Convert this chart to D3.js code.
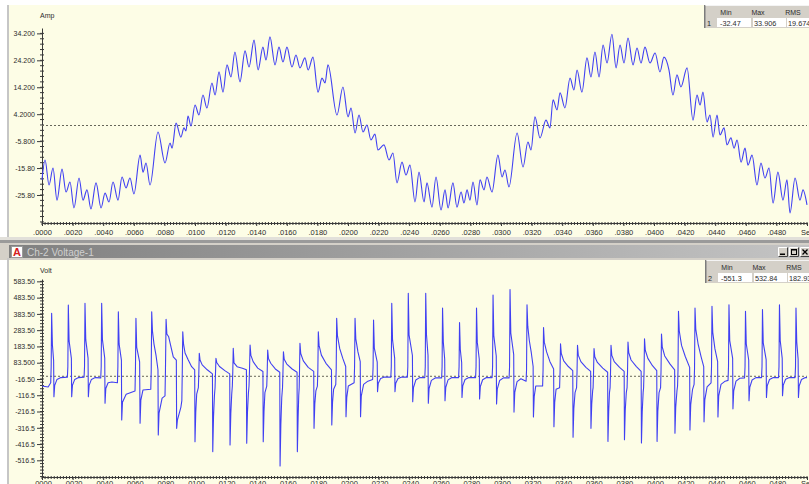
<!DOCTYPE html>
<html>
<head>
<meta charset="utf-8">
<script src="https://cdn.jsdelivr.net/npm/d3@7/dist/d3.min.js"></script>
<style>
html, body { margin: 0; padding: 0; background: #fff; overflow: hidden; }
svg { display: block; font-family: "Liberation Sans", Arial, sans-serif; }
</style>
</head>
<body>
<svg id="chart" width="809" height="484"></svg>
<script>
// ---- time axis (ms) ----
const timeTicksMs = [0,2,4,6,8,10,12,14,16,18,20,22,24,26,28,30,32,34,36,38,40,42,44,46,48,50];
const timeTickLabels = [".0000",".0020",".0040",".0060",".0080",".0100",".0120",".0140",".0160",".0180",
  ".0200",".0220",".0240",".0260",".0280",".0300",".0320",".0340",".0360",".0380",".0400",".0420",
  ".0440",".0460",".0480","Sec"];

// ---- channel 1: current ----
const ampTicks = [34.2, 24.2, 14.2, 4.2, -5.8, -15.8, -25.8];
const ampTickLabels = ["34.200","24.200","14.200","4.2000","-5.800","-15.80","-25.80"];
const ampStats = ["1", "-32.47", "33.906", "19.674"];
// [time ms, current A]
const ampSamples = [
 [0,-20.2],[0.20,-12.8],[0.46,-22.1],[0.72,-15.8],[0.98,-27.7],[1.31,-16.2],[1.57,-24.7],[1.83,-21.0],
 [2.09,-30.6],[2.42,-19.5],[2.68,-27.7],[2.94,-23.9],[3.20,-31.0],[3.53,-21.3],[3.86,-30.6],[4.12,-25.1],
 [4.38,-28.4],[4.64,-21.0],[4.97,-27.7],[5.23,-19.1],[5.49,-23.2],[5.75,-19.5],[6.01,-25.4],[6.41,-11.0],
 [6.60,-17.3],[6.80,-13.9],[7.06,-22.1],[7.58,-2.4],[8.04,-13.9],[8.37,-6.5],[8.50,-8.4],[8.76,0.9],
 [9.08,-4.3],[9.28,-0.9],[9.41,-2.0],[9.54,3.5],[9.74,-0.2],[10.00,7.6],[10.26,3.9],[10.52,11.3],
 [10.78,6.5],[11.11,15.8],[11.31,11.3],[11.57,19.9],[11.83,12.4],[12.09,22.5],[12.35,18.0],[12.61,27.3],
 [12.94,16.2],[13.27,27.7],[13.53,21.7],[13.86,31.7],[14.12,20.6],[14.44,29.1],[14.64,24.3],[14.90,32.9],
 [15.23,22.5],[15.49,29.1],[15.75,23.6],[16.01,29.1],[16.34,21.7],[16.60,26.2],[16.86,21.4],[17.19,25.1],
 [17.39,20.6],[17.71,25.4],[18.04,12.4],[18.30,17.6],[18.50,15.8],[18.69,22.5],[19.28,3.9],[19.67,14.3],
 [20.00,3.2],[20.20,6.5],[20.46,-2.8],[20.72,3.9],[20.98,-2.4],[21.24,0.2],[21.50,-5.4],[21.76,-3.2],
 [21.96,-9.1],[22.35,-7.2],[22.68,-12.8],[22.94,-10.2],[23.20,-21.3],[23.53,-13.6],[23.79,-18.4],[24.05,-14.7],
 [24.38,-28.4],[24.64,-17.3],[24.97,-28.4],[25.16,-21.3],[25.49,-30.3],[25.75,-19.1],[26.08,-31.4],[26.34,-23.9],
 [26.54,-30.6],[26.86,-21.3],[27.12,-30.3],[27.39,-24.7],[27.58,-28.8],[27.78,-23.9],[27.97,-27.7],[28.17,-21.0],
 [28.43,-29.5],[28.63,-20.2],[28.89,-23.9],[29.08,-19.1],[29.41,-24.7],[29.80,-11.0],[30.07,-19.1],[30.26,-16.5],
 [30.52,-22.8],[31.05,-2.8],[31.44,-15.4],[31.76,-6.1],[31.96,-9.1],[32.22,3.2],[32.55,-4.6],[32.94,2.0],
 [33.20,-0.9],[33.40,9.5],[33.66,5.8],[33.86,12.1],[34.18,6.5],[34.51,17.6],[34.77,13.2],[34.97,20.6],
 [35.29,12.4],[35.62,25.1],[35.88,18.0],[36.14,27.3],[36.41,18.0],[36.67,29.9],[36.93,23.2],[37.25,33.906],
 [37.52,21.4],[37.78,29.9],[38.04,23.2],[38.30,32.5],[38.63,22.5],[38.89,28.8],[39.15,23.2],[39.41,29.1],
 [39.74,23.2],[40.07,26.9],[40.39,19.9],[40.65,25.4],[40.98,20.6],[41.24,11.3],[41.50,18.8],[41.76,14.3],
 [42.16,21.4],[42.55,2.0],[42.81,11.3],[43.01,7.6],[43.20,12.4],[43.46,1.3],[43.66,3.9],[43.86,-4.3],
 [44.12,3.9],[44.31,-3.5],[44.58,-0.9],[44.77,-7.2],[45.03,-4.6],[45.23,-8.4],[45.43,-5.4],[45.69,-13.6],
 [45.95,-8.4],[46.14,-14.7],[46.41,-11.0],[46.73,-22.1],[46.99,-13.9],[47.25,-19.5],[47.52,-15.8],[47.78,-28.8],
 [48.10,-17.3],[48.43,-27.7],[48.69,-20.2],[48.89,-32.47],[49.22,-19.5],[49.54,-27.7],[49.74,-23.9],[50.00,-29.5]
];

// ---- channel 2: voltage ----
const voltTicks = [583.5, 483.5, 383.5, 283.5, 183.5, 83.5, -16.5, -116.5, -216.5, -316.5, -416.5, -516.5];
const voltTickLabels = ["583.50","483.50","383.50","283.50","183.50","83.500","-16.50","-116.5","-216.5","-316.5","-416.5","-516.5"];
const voltStats = ["2", "-551.3", "532.84", "182.93"];
// [time ms, voltage V]
const voltSamples = [
 [0,-60],[0.40,-66],[0.57,-40],[0.60,60],[0.63,387],[0.68,194],[0.76,97],[0.78,-125],[0.83,-56],[0.98,-19],[1.23,-8],
 [1.66,-5],[1.69,60],[1.72,438],[1.77,219],[1.92,110],[1.94,-125],[1.99,-56],[2.14,-19],[2.39,-8],
 [2.75,-5],[2.78,60],[2.81,449],[2.86,225],[3.01,112],[3.03,-125],[3.08,-56],[3.23,-19],[3.48,-8],
 [3.84,-10],[3.87,60],[3.90,449],[3.95,225],[4.10,112],[4.12,-166],[4.17,-75],[4.32,-40],[4.57,-35],
 [4.93,-40],[4.96,60],[4.99,397],[5.04,199],[5.19,99],[5.21,-269],[5.26,-160],[5.50,-110],
 [6.08,-90],[6.11,60],[6.14,356],[6.19,178],[6.38,89],[6.41,-289],[6.46,-146],[6.60,-84],
 [7.11,-80],[7.14,40],[7.17,397],[7.22,278],[7.32,198],[7.45,130],[7.58,40],[7.60,-361],[7.65,-226],[7.85,-134],
 [8.04,-120],[8.07,40],[8.11,350],[8.16,260],[8.28,243],[8.58,120],[8.78,100],[8.80,-320],[8.85,-270],[9.08,-189],
 [9.14,-150],[9.17,40],[9.20,274],[9.25,200],[9.35,143],[9.56,100],[9.78,59],[9.98,39],[10.00,-402],[10.05,-220],[10.11,-110],
 [10.22,-70],[10.25,20],[10.28,141],[10.33,100],[10.47,70],[10.80,40],[11.14,15],[11.16,-463],[11.21,-250],[11.27,-120],
 [11.31,-70],[11.34,20],[11.37,111],[11.42,85],[11.60,60],[11.95,35],[12.27,15],[12.29,-422],[12.34,-230],[12.40,-110],
 [12.44,-60],[12.47,30],[12.50,172],[12.55,82],[12.75,59],[13.10,50],[13.36,40],[13.38,-412],[13.43,-220],[13.49,-105],
 [13.53,-60],[13.56,30],[13.60,192],[13.65,130],[13.80,90],[14.10,50],[14.44,30],[14.46,-402],[14.51,-215],[14.57,-100],
 [14.69,-60],[14.72,30],[14.75,162],[14.80,110],[14.95,80],[15.25,45],[15.54,25],[15.56,-551.3],[15.61,-300],[15.67,-130],
 [15.72,-70],[15.75,30],[15.78,151],[15.83,105],[16.00,75],[16.35,45],[16.67,25],[16.69,-463],[16.74,-250],[16.78,-120],
 [16.81,-70],[16.83,30],[16.86,203],[16.91,140],[17.08,95],[17.40,55],[17.76,30],[17.78,-320],[17.83,-170],[17.90,-90],
 [18.00,-60],[18.03,40],[18.06,274],[18.11,190],[18.26,130],[18.56,80],[18.92,40],[18.94,-299],[18.99,-160],[19.06,-80],
 [19.20,-50],[19.23,50],[19.26,356],[19.31,250],[19.46,170],[19.66,110],[19.85,60],[19.87,-248],[19.92,-130],[20.02,-60],
 [20.40,-40],[20.43,60],[20.46,356],[20.51,230],[20.65,150],[20.80,90],[20.82,-248],[20.87,-120],[21.02,-50],[21.30,-30],
 [21.61,-20],[21.64,60],[21.67,346],[21.72,173],[21.91,87],[21.93,-95],[21.98,-43],[22.13,-14],[22.38,-5],
 [22.80,-5],[22.83,60],[22.86,449],[22.91,225],[23.05,112],[23.07,-95],[23.12,-43],[23.27,-14],[23.52,-5],
 [23.88,-5],[23.91,60],[23.94,510],[23.99,255],[24.21,128],[24.23,-156],[24.28,-70],[24.43,-23],[24.68,-8],
 [25.02,-8],[25.05,60],[25.08,510],[25.13,255],[25.23,128],[25.25,-166],[25.30,-75],[25.45,-25],[25.70,-10],
 [26.12,-10],[26.15,60],[26.18,420],[26.23,210],[26.32,105],[26.34,-150],[26.39,-68],[26.54,-22],[26.79,-8],
 [27.23,-8],[27.26,60],[27.29,330],[27.34,165],[27.43,83],[27.45,-130],[27.50,-59],[27.65,-20],[27.90,-8],
 [28.34,-8],[28.37,60],[28.40,420],[28.45,210],[28.58,105],[28.60,-140],[28.65,-63],[28.80,-21],[29.05,-8],
 [29.42,-8],[29.45,60],[29.48,500],[29.53,250],[29.69,125],[29.71,-170],[29.76,-77],[29.91,-26],[30.16,-10],
 [30.53,-10],[30.56,60],[30.59,532.84],[30.64,266],[30.83,133],[30.85,-220],[30.90,-99],[31.05,-33],[31.30,-15],
 [31.64,-30],[31.67,40],[31.70,440],[31.75,308],[31.85,220],[31.98,145],[32.10,60],[32.12,-250],[32.17,-125],[32.27,-60],
 [32.72,-60],[32.75,40],[32.78,300],[32.83,210],[32.98,150],[33.20,90],[33.44,45],[33.46,-310],[33.51,-160],[33.60,-80],
 [33.83,-70],[33.86,30],[33.89,200],[33.94,140],[34.10,95],[34.40,60],[34.69,35],[34.71,-375],[34.76,-200],[34.84,-100],
 [34.94,-70],[34.97,30],[35.00,190],[35.05,130],[35.22,90],[35.55,55],[35.86,30],[35.88,-320],[35.93,-170],[35.99,-90],
 [36.02,-70],[36.05,30],[36.08,170],[36.13,120],[36.30,85],[36.65,50],[36.97,25],[36.99,-400],[37.04,-215],[37.09,-100],
 [37.13,-70],[37.16,30],[37.19,190],[37.24,130],[37.40,90],[37.75,55],[38.05,30],[38.07,-390],[38.12,-210],[38.19,-100],
 [38.24,-70],[38.27,30],[38.30,210],[38.35,145],[38.50,100],[38.85,60],[39.16,30],[39.18,-410],[39.23,-220],[39.29,-100],
 [39.32,-70],[39.35,30],[39.38,230],[39.43,160],[39.60,110],[39.90,65],[40.18,35],[40.20,-400],[40.25,-215],[40.33,-100],
 [40.43,-70],[40.46,35],[40.49,260],[40.54,180],[40.70,125],[41.05,75],[41.35,40],[41.37,-350],[41.42,-190],[41.50,-90],
 [41.54,-60],[41.57,40],[41.60,400],[41.65,280],[41.80,190],[42.05,120],[42.33,55],[42.35,-330],[42.40,-175],[42.52,-80],
 [42.62,-50],[42.65,50],[42.68,420],[42.73,290],[42.88,200],[43.08,120],[43.25,60],[43.27,-280],[43.32,-145],[43.47,-65],
 [43.73,-40],[43.76,60],[43.79,430],[43.84,270],[43.98,170],[44.16,90],[44.18,-250],[44.23,-120],[44.38,-50],[44.65,-30],
 [44.84,-25],[44.87,60],[44.90,440],[44.95,220],[45.14,110],[45.16,-200],[45.21,-90],[45.36,-30],[45.61,-12],
 [45.92,-10],[45.95,60],[45.98,400],[46.03,200],[46.19,100],[46.21,-150],[46.26,-68],[46.41,-23],[46.66,-8],
 [47.03,-8],[47.06,60],[47.09,410],[47.14,205],[47.33,103],[47.35,-130],[47.40,-59],[47.55,-20],[47.80,-8],
 [48.14,-8],[48.17,60],[48.20,440],[48.25,220],[48.38,110],[48.40,-120],[48.45,-54],[48.60,-18],[48.85,-8],
 [49.22,-8],[49.25,60],[49.28,420],[49.33,210],[49.42,105],[49.44,-130],[49.49,-59],[49.64,-20],[49.89,-8],
 [50,-8]
];

const statHeaders = ["Min", "Max", "RMS"];

// ---- layout ----
const W = 809, H = 484;
const CREAM = "#fdfde6", AXIS = "#3a3a3a", TEXT = "#2c2c2c", TRACE = "#4040f2";
const svg = d3.select("#chart");

const x = d3.scaleLinear().domain([0, 50]).range([42, 807]);
const yAmp = d3.scaleLinear().domain([-36.2, 36.2]).range([223, 28]);
const yVolt = d3.scaleLinear().domain([-619, 598]).range([477, 279]);

// window backgrounds and frames
svg.append("rect").attr("width", W).attr("height", H).attr("fill", "#ffffff");
svg.append("rect").attr("x", 9).attr("y", 5).attr("width", W - 9).attr("height", 232).attr("fill", CREAM);
svg.append("rect").attr("x", 7).attr("y", 5).attr("width", 2).attr("height", 232).attr("fill", "#c6c6c6");
svg.append("rect").attr("x", 0).attr("y", 237).attr("width", W).attr("height", 3).attr("fill", "#e2e0da");
svg.append("rect").attr("x", 0).attr("y", 240).attr("width", W).attr("height", 3).attr("fill", "#9a9a9a");
svg.append("rect").attr("x", 0).attr("y", 243).attr("width", W).attr("height", 17).attr("fill", "#d4d0c8");
const defs = svg.append("defs");
const grad = defs.append("linearGradient").attr("id", "caption")
  .attr("x1", 0).attr("x2", 1).attr("y1", 0).attr("y2", 0);
grad.append("stop").attr("offset", 0).attr("stop-color", "#808080");
grad.append("stop").attr("offset", 1).attr("stop-color", "#c4c4c4");
svg.append("rect").attr("x", 9).attr("y", 245).attr("width", W - 9).attr("height", 13).attr("fill", "url(#caption)");
svg.append("rect").attr("x", 9).attr("y", 260).attr("width", W - 9).attr("height", 224).attr("fill", CREAM);
svg.append("rect").attr("x", 7).attr("y", 258).attr("width", 2).attr("height", 226).attr("fill", "#c6c6c6");

// caption of the voltage window
svg.append("rect").attr("x", 11.5).attr("y", 246.5).attr("width", 11).attr("height", 11)
  .attr("fill", "#ffffff").attr("stroke", "#9a9a9a").attr("stroke-width", 1);
svg.append("text").attr("x", 17).attr("y", 256).attr("text-anchor", "middle")
  .attr("font-size", 11).attr("font-weight", "bold").attr("fill", "#d42020").text("A");
svg.append("text").attr("x", 27).attr("y", 255.5).attr("font-size", 10)
  .attr("fill", "#cfcfcf").text("Ch-2 Voltage-1");

// caption buttons
[778, 789, 800].forEach((bx, i) => {
  const b = svg.append("g").attr("transform", `translate(${bx},247)`);
  b.append("rect").attr("width", 10).attr("height", 10).attr("fill", "#d4d0c8");
  b.append("path").attr("d", "M0.5,9.5V0.5H9.5").attr("fill", "none").attr("stroke", "#ffffff");
  b.append("path").attr("d", "M0.5,9.5H9.5V0.5").attr("fill", "none").attr("stroke", "#404040");
  if (i === 0) b.append("rect").attr("x", 2).attr("y", 6.5).attr("width", 5).attr("height", 1.5).attr("fill", "#000");
  if (i === 1) {
    b.append("rect").attr("x", 2.5).attr("y", 2.5).attr("width", 5).attr("height", 5)
      .attr("fill", "none").attr("stroke", "#000");
    b.append("rect").attr("x", 2).attr("y", 2).attr("width", 6).attr("height", 1.5).attr("fill", "#000");
  }
  if (i === 2) b.append("path").attr("d", "M2.5,2.5L7.5,7.5M7.5,2.5L2.5,7.5")
    .attr("stroke", "#000").attr("stroke-width", 1.3);
});

// statistics box in the top-right corner of a channel
function statBox(x0, y0, stats) {
  const g = svg.append("g").attr("transform", `translate(${x0},${y0})`);
  g.append("rect").attr("width", W - x0).attr("height", 23).attr("fill", "#d4d0c8");
  g.append("rect").attr("width", 1.5).attr("height", 23).attr("fill", "#7c7c7c");
  g.append("rect").attr("x", 1.5).attr("width", W - x0).attr("height", 1).attr("fill", "#f4f4f4");
  [[13, 34], [49, 33], [83, 30]].forEach(c => {
    g.append("rect").attr("x", c[0]).attr("y", 13).attr("width", c[1]).attr("height", 9).attr("fill", "#ffffff");
  });
  [22, 54, 89].forEach((cx, i) => {
    g.append("text").attr("x", cx).attr("y", 10).attr("text-anchor", "middle")
      .attr("font-size", 7).attr("fill", TEXT).text(statHeaders[i]);
  });
  [3, 16, 50, 84].forEach((cx, i) => {
    g.append("text").attr("x", cx).attr("y", 20.5)
      .attr("font-size", 7.3).attr("fill", TEXT).text(stats[i]);
  });
}

// one channel: axes, zero line and trace
function channel(yScale, ticks, labels, minorTicks, unit, unitY, samples, curve) {
  const axisY = x.range()[0];
  const yAx = svg.append("g").attr("transform", `translate(${axisY},0)`)
    .call(d3.axisLeft(yScale).tickValues(ticks).tickFormat((d, i) => labels[i])
      .tickSize(5).tickSizeOuter(0).tickPadding(2));
  yAx.attr("font-family", null).attr("font-size", 7);
  yAx.selectAll("path,line").attr("stroke", AXIS);
  yAx.selectAll("text").attr("fill", TEXT);

  svg.append("g").selectAll("line").data(minorTicks).join("line")
    .attr("x1", axisY - 2).attr("x2", axisY + 2)
    .attr("y1", d => yScale(d)).attr("y2", d => yScale(d))
    .attr("stroke", AXIS).attr("stroke-width", 1);

  const baseY = yScale.range()[0];
  const xAx = svg.append("g").attr("transform", `translate(0,${baseY})`)
    .call(d3.axisBottom(x).tickValues(timeTicksMs).tickFormat((d, i) => timeTickLabels[i])
      .tickSize(3).tickSizeOuter(0).tickPadding(unit === "Amp" ? 4 : 1));
  xAx.attr("font-family", null).attr("font-size", 7.5);
  xAx.selectAll("path,line").attr("stroke", AXIS);
  xAx.selectAll("text").attr("fill", TEXT);

  svg.append("g").selectAll("line").data(d3.range(0, 50.001, 0.2)).join("line")
    .attr("x1", d => x(d)).attr("x2", d => x(d))
    .attr("y1", baseY - 1).attr("y2", baseY + 2)
    .attr("stroke", AXIS).attr("stroke-width", 1);

  svg.append("text").attr("x", 40).attr("y", unitY).attr("font-size", 7)
    .attr("fill", TEXT).text(unit);

  svg.append("line").attr("x1", x(0)).attr("x2", x(50))
    .attr("y1", yScale(0)).attr("y2", yScale(0))
    .attr("stroke", "#66665a").attr("stroke-width", 1).attr("stroke-dasharray", "2,2");

  const line = d3.line().x(d => x(d[0])).y(d => yScale(d[1])).curve(curve);
  svg.append("path").datum(samples).attr("d", line)
    .attr("fill", "none").attr("stroke", TRACE).attr("stroke-width", 1.1)
    .attr("stroke-linejoin", "round");
}

channel(yAmp, ampTicks, ampTickLabels, d3.range(-35.8, 36, 2), "Amp", 18, ampSamples, d3.curveMonotoneX);
channel(yVolt, voltTicks, voltTickLabels, d3.range(-616.5, 598, 20), "Volt", 273, voltSamples, d3.curveLinear);

statBox(704, 5, ampStats);
statBox(705, 260, voltStats);
</script>
</body>
</html>
